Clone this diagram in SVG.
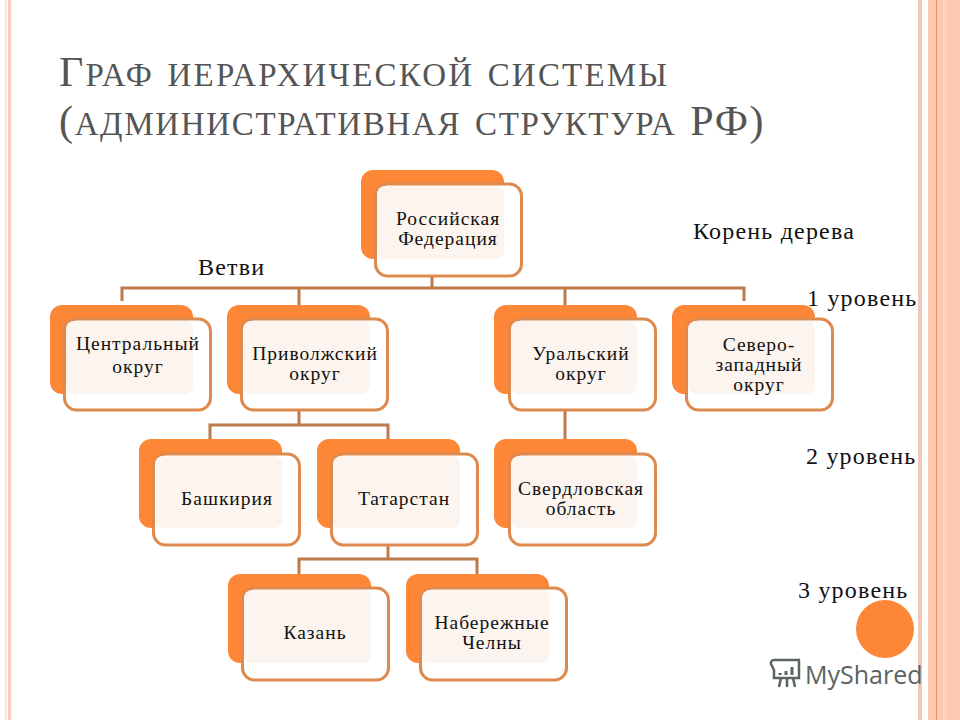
<svg xmlns="http://www.w3.org/2000/svg" width="960" height="720" viewBox="0 0 960 720">
<style>
.bk{fill:#fd8637}
.fr{fill:#fff;stroke:#de8a4e;stroke-width:3}
.in{fill:#fcf4ee}
.t{font-family:"Liberation Serif","DejaVu Serif",serif;font-size:19.500px;letter-spacing:1px;fill:#111;text-anchor:middle}
.l{font-family:"Liberation Serif","DejaVu Serif",serif;font-size:24px;letter-spacing:1.200px;fill:#111}
.h{font-family:"Liberation Serif","DejaVu Serif",serif;fill:#555;font-size:33px}
.h tspan.b{font-size:42px}
#conn path{fill:none;stroke:#bd7a4b;stroke-width:3}
</style>
<rect width="960" height="720" fill="#fff"/>
<g id="bg">
<rect x="5" y="0" width="2" height="720" fill="#fbe6dc"/>
<rect x="8" y="0" width="3" height="720" fill="#f5cdbd"/>
<rect x="918" y="0" width="4" height="720" fill="#efc8b8"/>
<rect x="928" y="0" width="32" height="720" fill="#fcc8b2"/>
<rect x="936" y="0" width="1" height="720" fill="#dd9468"/>
<rect x="943" y="0" width="3" height="720" fill="#fbd4c3"/>
</g>
<text class="h" x="59" y="86" letter-spacing="2.200" word-spacing="3"><tspan class="b">Г</tspan>РАФ ИЕРАРХИЧЕСКОЙ СИСТЕМЫ</text>
<text class="h" x="59" y="135" letter-spacing="1.650" word-spacing="4"><tspan class="b">(</tspan>АДМИНИСТРАТИВНАЯ СТРУКТУРА <tspan class="b">РФ)</tspan></text>
<g id="conn">
<path d="M432 276V288M122 301V288H744V301M299 288V305M565 288V305"/>
<path d="M299 410V425M210 439V425H388V439"/>
<path d="M565 410V439"/>
<path d="M388 545V559M299 574V559H477V574"/>
</g>
<g id="n-rf"><rect class="bk" x="361" y="170" width="143" height="89" rx="12"/><rect class="fr" x="375.500" y="184" width="146" height="92" rx="12"/><rect class="in" x="377" y="186" width="127" height="73" rx="8"/><text class="t" x="448" y="225">Российская<tspan x="448" dy="20">Федерация</tspan></text></g>
<g id="n-c"><rect class="bk" x="50" y="305" width="143" height="89" rx="12"/><rect class="fr" x="64.500" y="319" width="146" height="91" rx="12"/><rect class="in" x="66" y="321" width="127" height="73" rx="8"/><text class="t" x="138" y="350">Центральный<tspan x="138" dy="23">округ</tspan></text></g>
<g id="n-p"><rect class="bk" x="227" y="305" width="143" height="89" rx="12"/><rect class="fr" x="241.500" y="319" width="146" height="91" rx="12"/><rect class="in" x="243" y="321" width="127" height="73" rx="8"/><text class="t" x="315" y="360">Приволжский<tspan x="315" dy="20">округ</tspan></text></g>
<g id="n-u"><rect class="bk" x="494" y="305" width="143" height="89" rx="12"/><rect class="fr" x="509.500" y="319" width="146" height="91" rx="12"/><rect class="in" x="511" y="321" width="126" height="73" rx="8"/><text class="t" x="581" y="360">Уральский<tspan x="581" dy="20">округ</tspan></text></g>
<g id="n-nw"><rect class="bk" x="672" y="305" width="143" height="89" rx="12"/><rect class="fr" x="686.500" y="319" width="146" height="91" rx="12"/><rect class="in" x="688" y="321" width="127" height="73" rx="8"/><text class="t" x="759" y="351">Северо-<tspan x="759" dy="20">западный</tspan><tspan x="759" dy="20">округ</tspan></text></g>
<g id="n-b"><rect class="bk" x="139" y="439" width="143" height="89" rx="12"/><rect class="fr" x="153.500" y="454" width="146" height="91" rx="12"/><rect class="in" x="155" y="456" width="127" height="72" rx="8"/><text class="t" x="227" y="505">Башкирия</text></g>
<g id="n-t"><rect class="bk" x="317" y="439" width="143" height="89" rx="12"/><rect class="fr" x="331.500" y="454" width="146" height="91" rx="12"/><rect class="in" x="333" y="456" width="127" height="72" rx="8"/><text class="t" x="404" y="505">Татарстан</text></g>
<g id="n-s"><rect class="bk" x="494" y="439" width="143" height="89" rx="12"/><rect class="fr" x="509.500" y="454" width="146" height="91" rx="12"/><rect class="in" x="511" y="456" width="126" height="72" rx="8"/><text class="t" x="581" y="495">Свердловская<tspan x="581" dy="20">область</tspan></text></g>
<g id="n-k"><rect class="bk" x="228" y="574" width="143" height="89" rx="12"/><rect class="fr" x="242.500" y="588" width="146" height="92" rx="12"/><rect class="in" x="244" y="590" width="127" height="73" rx="8"/><text class="t" x="315" y="639">Казань</text></g>
<g id="n-n"><rect class="bk" x="406" y="574" width="143" height="89" rx="12"/><rect class="fr" x="420.500" y="588" width="146" height="92" rx="12"/><rect class="in" x="422" y="590" width="127" height="73" rx="8"/><text class="t" x="492" y="629">Набережные<tspan x="492" dy="20">Челны</tspan></text></g>
<text class="l" x="693" y="239" letter-spacing="1.600">Корень дерева</text>
<text class="l" x="198" y="275">Ветви</text>
<text class="l" x="807" y="306">1 уровень</text>
<text class="l" x="806" y="464">2 уровень</text>
<text class="l" x="798" y="598">3 уровень</text>
<circle cx="885" cy="629" r="29" fill="#fd8637"/>
<g id="logo" fill="none" stroke="#5a6462" stroke-width="2.500">
<path d="M771 664a3 3 0 0 1 3-4h26M771 664l3 6V678h25V660M781 678l-2 9M787 678v9M793 678l2 9"/>
<path d="M780 675v-2M786 675v-4M792 675v-8" stroke-width="3"/>
</g>
<text x="805" y="684" font-family="Open Sans,Liberation Sans,sans-serif" font-size="25" fill="#5a6462">MyShared</text>
</svg>
